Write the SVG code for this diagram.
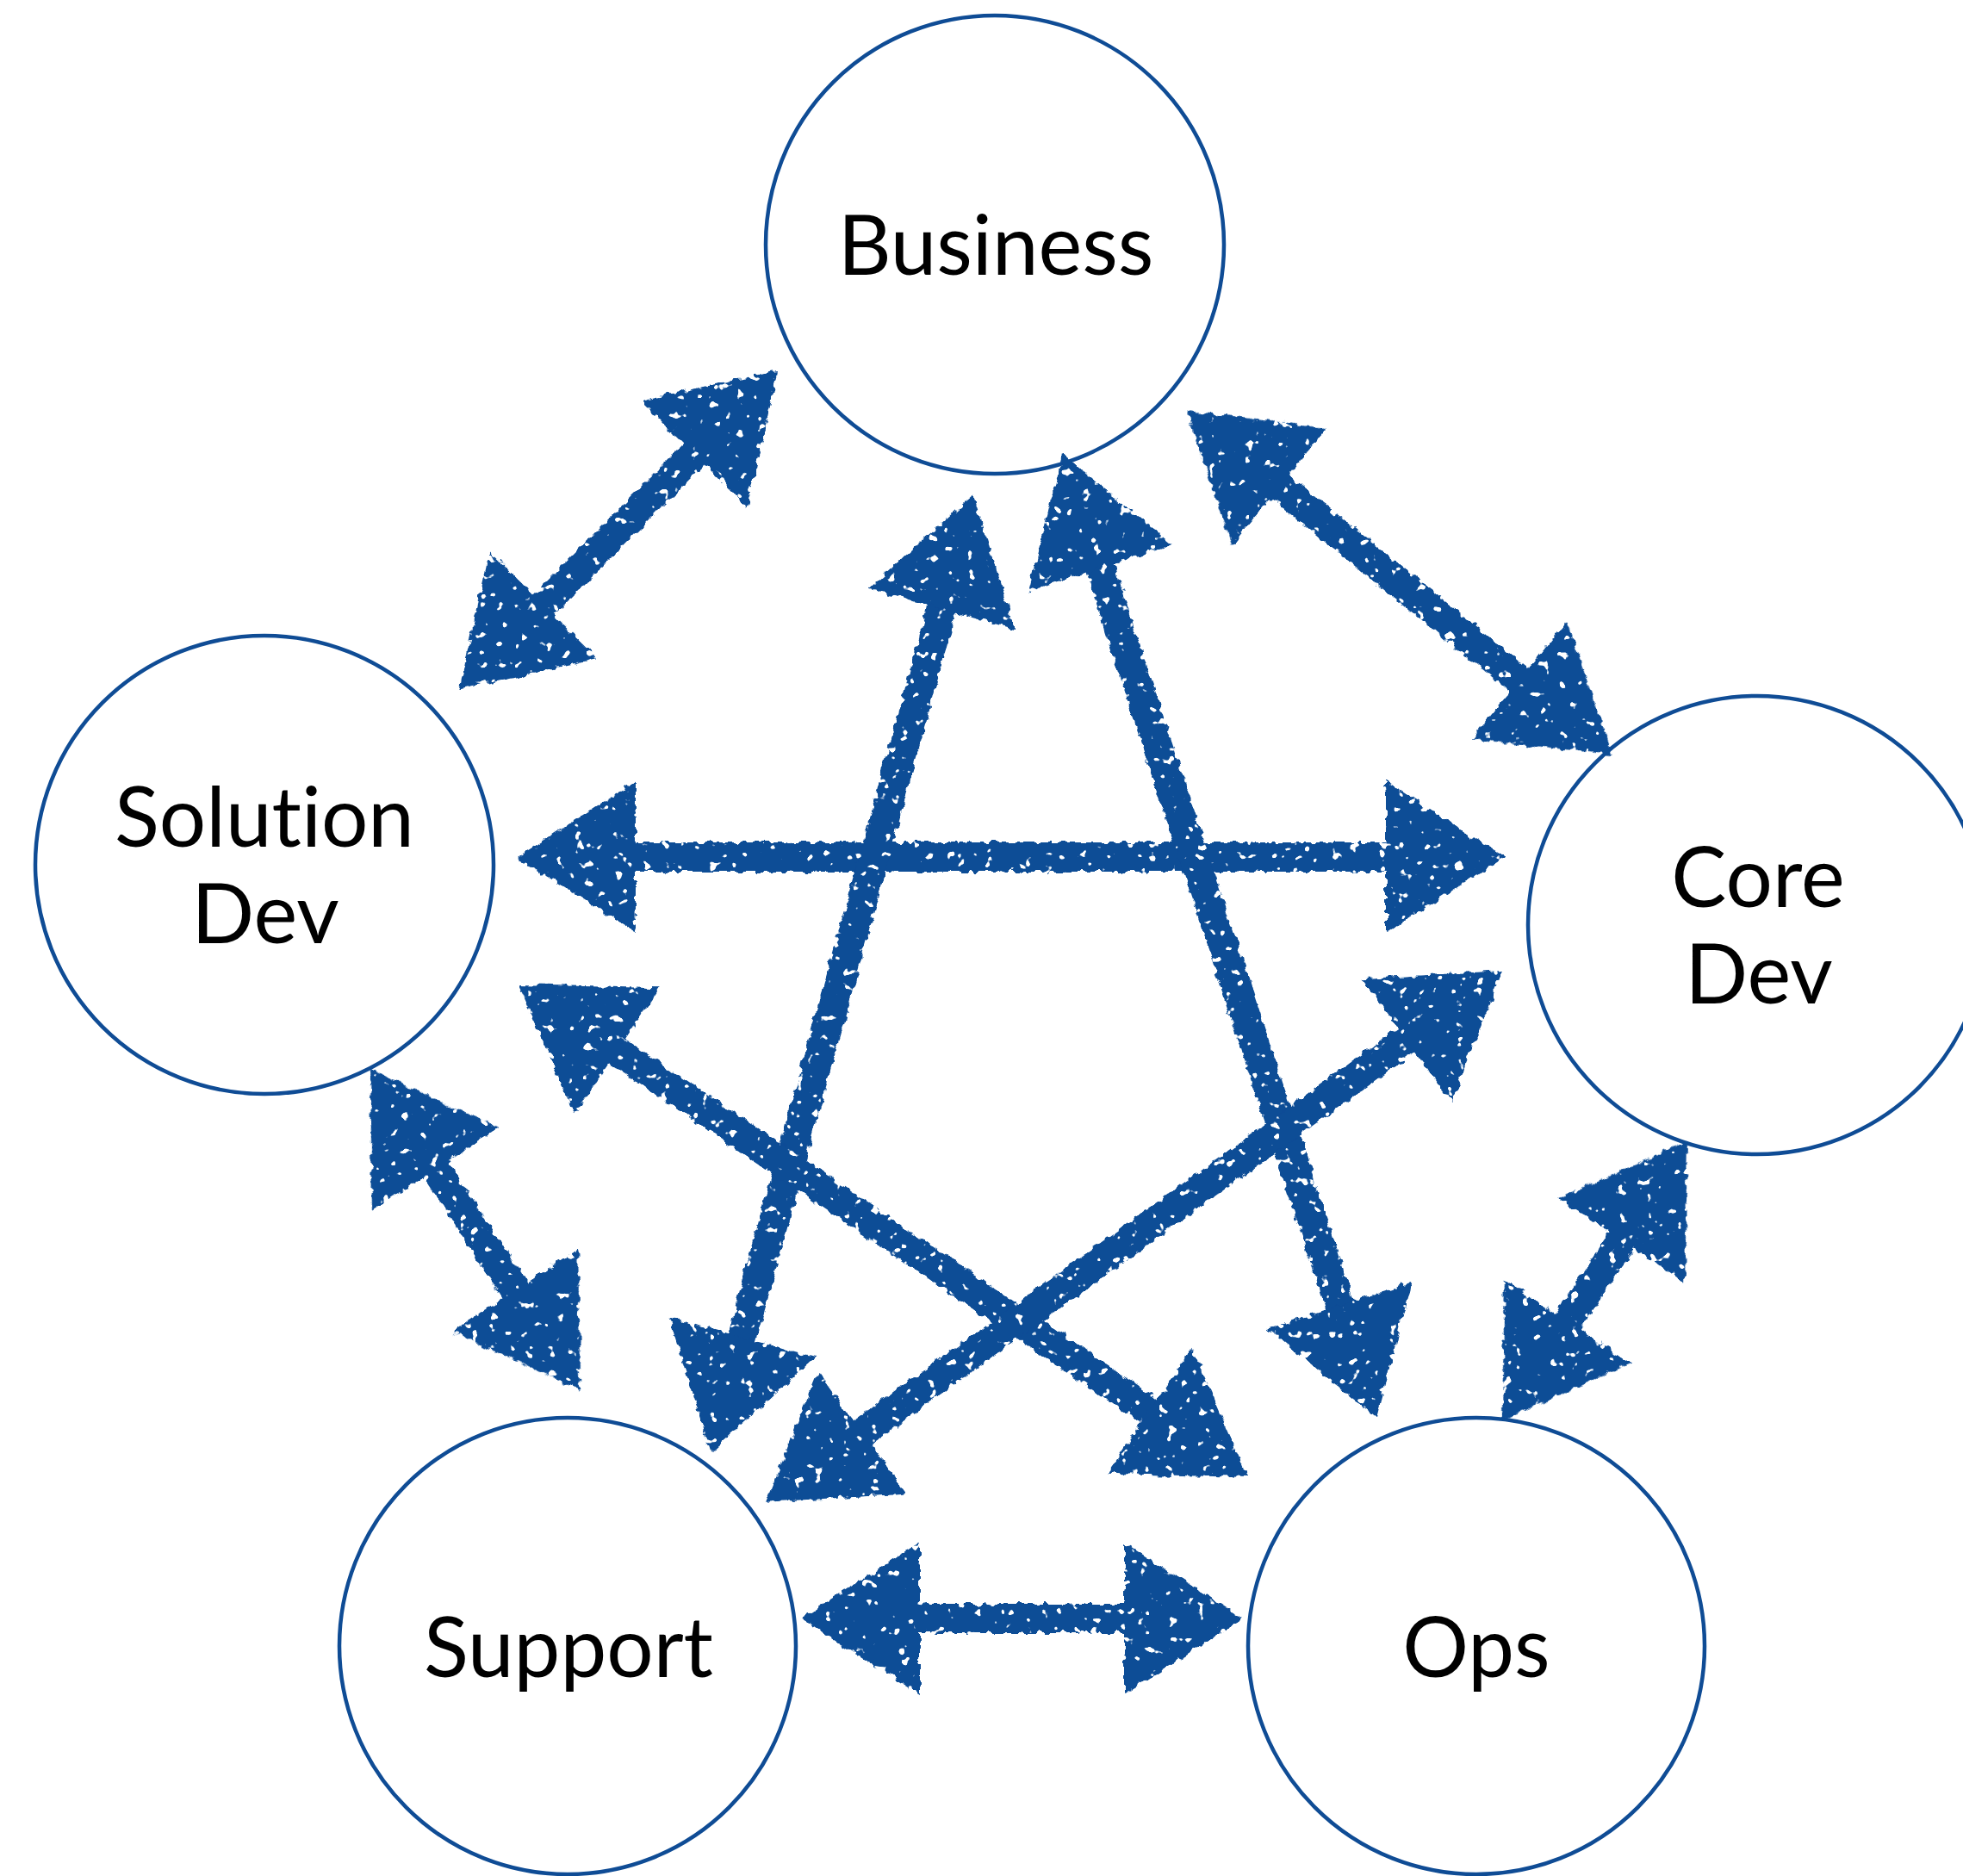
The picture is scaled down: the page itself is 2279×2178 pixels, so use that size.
<svg xmlns="http://www.w3.org/2000/svg" width="2279" height="2178" viewBox="0 0 2279 2178">
<style>
.node circle{fill:#ffffff;stroke:#0f4c95;stroke-width:4.5}
.node text{font-family:Lato,"Open Sans","DejaVu Sans",sans-serif;font-size:96px;fill:#000000;text-anchor:middle;font-variant-ligatures:none;font-feature-settings:"liga" 0,"clig" 0}
.arrow{fill:#0e4d96}
</style>
<defs>
<filter id="chalk" x="-5%" y="-5%" width="110%" height="110%">
<feTurbulence type="fractalNoise" baseFrequency="0.1" numOctaves="2" seed="7" result="warp"/>
<feDisplacementMap in="SourceGraphic" in2="warp" scale="10" xChannelSelector="R" yChannelSelector="G" result="rough"/>
<feTurbulence type="fractalNoise" baseFrequency="0.09" numOctaves="2" seed="11" result="spk"/>
<feColorMatrix in="spk" type="matrix" values="0 0 0 0 0  0 0 0 0 0  0 0 0 0 0  -20 0 0 0 14.6" result="mask"/>
<feComposite in="rough" in2="mask" operator="in"/>
</filter>
</defs>
<rect width="2279" height="2178" fill="#ffffff"/>
<g id="business" class="node"><circle cx="1155" cy="284" r="266"/><text x="1156" y="319">Business</text></g>
<g id="solution-dev" class="node"><circle cx="307" cy="1004" r="266"/><text x="307" y="983">Solution</text><text x="308" y="1095">Dev</text></g>
<g id="core-dev" class="node"><circle cx="2040" cy="1074" r="266"/><text x="2041" y="1053">Core</text><text x="2042" y="1165">Dev</text></g>
<g id="support" class="node"><circle cx="659" cy="1911" r="265"/><text x="660" y="1947">Support</text></g>
<g id="ops" class="node"><circle cx="1714" cy="1911" r="265"/><text x="1714" y="1947">Ops</text></g>
<g id="connectors" class="arrow" filter="url(#chalk)">
<g transform="translate(903,430) rotate(135)"><rect x="118" y="-17" width="287" height="34"/><polygon points="0,0 138,-88 138,88"/><polygon points="523,0 385,-88 385,88"/></g>
<g transform="translate(1378,478) rotate(38.9)"><rect x="118" y="-17" width="398" height="34"/><polygon points="0,0 138,-88 138,88"/><polygon points="634,0 496,-88 496,88"/></g>
<g transform="translate(600,995)"><rect x="118" y="-17" width="911" height="34"/><polygon points="0,0 138,-88 138,88"/><polygon points="1147,0 1009,-88 1009,88"/></g>
<g transform="translate(1130,574) rotate(105.34)"><rect x="118" y="-17" width="917" height="34"/><polygon points="0,0 138,-88 138,88"/><polygon points="1153,0 1015,-88 1015,88"/></g>
<g transform="translate(1234,528) rotate(71.97)"><rect x="118" y="-17" width="940" height="34"/><polygon points="0,0 138,-88 138,88"/><polygon points="1176,0 1038,-88 1038,88"/></g>
<g transform="translate(602,1143) rotate(34.03)"><rect x="118" y="-17" width="786" height="34"/><polygon points="0,0 138,-88 138,88"/><polygon points="1022,0 884,-88 884,88"/></g>
<g transform="translate(1745,1127) rotate(144.22)"><rect x="118" y="-17" width="819" height="34"/><polygon points="0,0 138,-88 138,88"/><polygon points="1055,0 917,-88 917,88"/></g>
<g transform="translate(430,1242) rotate(56.78)"><rect x="118" y="-17" width="208" height="34"/><polygon points="0,0 138,-88 138,88"/><polygon points="444,0 306,-88 306,88"/></g>
<g transform="translate(1959,1325) rotate(123.57)"><rect x="118" y="-17" width="153" height="34"/><polygon points="0,0 138,-88 138,88"/><polygon points="389,0 251,-88 251,88"/></g>
<g transform="translate(930,1879)"><rect x="118" y="-17" width="277" height="34"/><polygon points="0,0 138,-88 138,88"/><polygon points="513,0 375,-88 375,88"/></g>
</g>
</svg>
